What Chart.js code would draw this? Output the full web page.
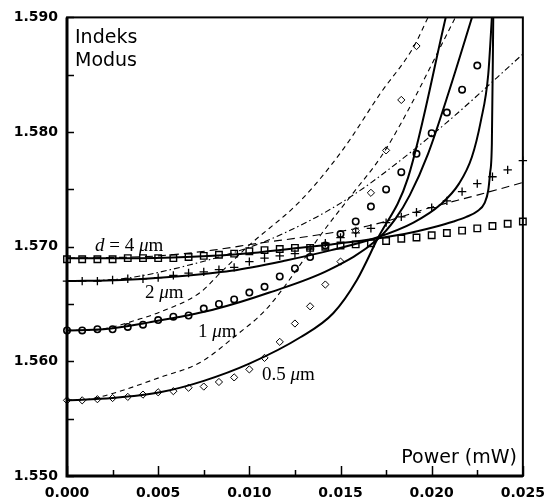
<!DOCTYPE html>
<html>
<head>
<meta charset="utf-8">
<script src="https://cdn.jsdelivr.net/npm/chart.js@4.4.0/dist/chart.umd.min.js"></script>
<style>
html,body{margin:0;padding:0;background:#fff;}
#wrap{width:554px;height:504px;}
</style>
</head>
<body>
<div id="wrap"><canvas id="grafica" width="554" height="504"></canvas></div>
<script>
// ejes
var TICK_X=[0,0.0025,0.005,0.0075,0.010,0.0125,0.015,0.0175,0.020,0.0225,0.025];
var LABEL_X=['0.000','','0.005','','0.010','','0.015','','0.020','','0.025'];
var TICK_Y=[1.550,1.555,1.560,1.565,1.570,1.575,1.580,1.585,1.590];
var LABEL_Y=['1.550','','1.560','','1.570','','1.580','','1.590'];

// puntos medidos (misma potencia para las cuatro series)
var MARK_P=[0,0.000833,0.001667,0.0025,0.003333,0.004167,0.005,0.005833,0.006667,0.0075,0.008333,0.009167,0.01,0.010833,0.011667,0.0125,0.013333,0.014167,0.015,0.015833,0.016667,0.0175,0.018333,0.019167,0.02,0.020833,0.021667,0.0225,0.023333,0.024167,0.025];
var MARK_4=[1.5689,1.5689,1.5689,1.5689,1.5690,1.5690,1.5690,1.5690,1.5691,1.5692,1.5693,1.5694,1.5696,1.5697,1.5698,1.5699,1.5699,1.5700,1.5701,1.5702,1.5703,1.5705,1.5707,1.5708,1.5710,1.5712,1.5714,1.5716,1.5718,1.5720,1.5722];
var MARK_2=[1.5670,1.5670,1.5670,1.5671,1.5672,1.5672,1.5673,1.5675,1.5677,1.5678,1.5680,1.5682,1.5687,1.5690,1.5692,1.5694,1.5698,1.5703,1.5708,1.5712,1.5716,1.5721,1.5726,1.5730,1.5734,1.5740,1.5748,1.5755,1.5761,1.5767,1.5775];
var MARK_1=[1.5627,1.5627,1.5628,1.5628,1.5630,1.5632,1.5636,1.5639,1.5640,1.5646,1.5650,1.5654,1.5660,1.5665,1.5674,1.5681,1.5691,1.5701,1.5711,1.5722,1.5735,1.5750,1.5765,1.5781,1.5799,1.5817,1.5837,1.5858];
var MARK_05=[1.5566,1.5566,1.5567,1.5568,1.5569,1.5571,1.5573,1.5574,1.5577,1.5578,1.5582,1.5586,1.5593,1.5603,1.5617,1.5633,1.5648,1.5667,1.5687,1.5714,1.5747,1.5784,1.5828,1.5875];

// curvas teoricas (solidas)
var S4_P=[0,0.004,0.008,0.0105,0.0128,0.0145,0.0165,0.0185,0.0201,0.0212,0.0219,0.0225,0.0229,0.0231,0.0232,0.0233,0.02338];
var S4_N=[1.5690,1.5690,1.5692,1.5695,1.5699,1.5702,1.5706,1.5711,1.5717,1.5722,1.5726,1.5731,1.5738,1.5749,1.5764,1.5790,1.5905];
var S2_P=[0,0.003,0.006,0.009,0.012,0.0145,0.017,0.019,0.0205,0.0215,0.0222,0.0227,0.0231,0.02332];
var S2_N=[1.5670,1.5671,1.5674,1.5679,1.5688,1.5697,1.5708,1.5721,1.5737,1.5755,1.5778,1.5810,1.5850,1.5905];
var S1_P=[0,0.002,0.0045,0.008,0.0111,0.0144,0.017,0.018,0.0188,0.0198,0.021,0.02225];
var S1_N=[1.5627,1.5628,1.5634,1.5645,1.5660,1.5680,1.5706,1.5724,1.5745,1.5781,1.5838,1.5902];
var S05_P=[0,0.0025,0.0051,0.0075,0.010,0.0128,0.0146,0.0159,0.017,0.0187,0.0208];
var S05_N=[1.5566,1.5568,1.5573,1.5583,1.5598,1.5621,1.5642,1.5671,1.5706,1.5760,1.5902];

// curvas aproximadas (punteadas)
var D4_P=[0,0.005,0.008,0.0105,0.0128,0.0159,0.0177,0.0199,0.0225,0.025];
var D4_N=[1.5690,1.5692,1.5697,1.5703,1.5708,1.5716,1.5723,1.5734,1.5745,1.5756];
var D2_P=[0,0.003,0.0067,0.0106,0.0137,0.0155,0.0172,0.0208,0.025];
var D2_N=[1.5670,1.5672,1.5684,1.5703,1.5726,1.5743,1.5762,1.5808,1.5868];
var D1_P=[0,0.0012,0.0025,0.0038,0.0051,0.0073,0.0084,0.0099,0.0128,0.0151,0.0172,0.019,0.0198];
var D1_N=[1.5627,1.5627,1.5630,1.5636,1.5643,1.5660,1.5677,1.5700,1.5740,1.5784,1.5834,1.5874,1.5900];
var D05_P=[0,0.0012,0.0025,0.0051,0.0073,0.0093,0.0109,0.0126,0.0139,0.0157,0.0172,0.0184,0.0213];
var D05_N=[1.5566,1.5567,1.5572,1.5586,1.5599,1.5623,1.5645,1.5680,1.5710,1.5747,1.5778,1.5810,1.5900];

// etiquetas de curva: texto y punto de anclaje (potencia, indice)
var CURVE_TXT=[[['d',1],[' = 4 ',0],['\u03bc',1],['m',0]],[['2 ',0],['\u03bc',1],['m',0]],[['1 ',0],['\u03bc',1],['m',0]],[['0.5 ',0],['\u03bc',1],['m',0]]];
var CURVE_AT=[[0.00154,1.5701],[0.00428,1.5660],[0.00718,1.56255],[0.01069,1.5588]];

function pares(px,ny){
	var out=new Array();
	for(var i=0;i<ny.length;i++){ out.push({x:px[i],y:ny[i]}); }
	return out;
}

function linea(px,ny,ancho,dash){
	return {data:pares(px,ny),showLine:true,pointRadius:0,borderColor:'#000',borderWidth:ancho,borderDash:dash,cubicInterpolationMode:'monotone',clip:0,order:2};
}

function marcas(ny,estilo,radio,ancho){
	return {data:pares(MARK_P,ny),showLine:false,pointStyle:estilo,pointRadius:radio,borderColor:'#000',backgroundColor:'rgba(255,255,255,0)',pointBorderWidth:ancho,clip:false,order:1};
}

var marco={
	id:'marco',
	afterDatasetsDraw:function(chart){
		var ctx=chart.ctx, a=chart.chartArea, sx=chart.scales.x, sy=chart.scales.y;
		ctx.save();
		ctx.strokeStyle='#000';
		ctx.lineWidth=1.5;
		ctx.beginPath();
		for(var i=0;i<TICK_X.length;i++){
			var px=Math.round(sx.getPixelForValue(TICK_X[i]))+0.5;
			var len=LABEL_X[i]?10:6;
			ctx.moveTo(px,a.bottom); ctx.lineTo(px,a.bottom-len);
		}
		for(var j=0;j<TICK_Y.length;j++){
			var py=Math.round(sy.getPixelForValue(TICK_Y[j]))+0.5;
			ctx.moveTo(a.left,py); ctx.lineTo(a.left+7,py);
		}
		ctx.stroke();
		ctx.lineWidth=2;
		ctx.strokeRect(a.left,a.top,a.right-a.left,a.bottom-a.top);
		ctx.lineWidth=3;
		ctx.beginPath();
		ctx.moveTo(a.left,a.top); ctx.lineTo(a.left,a.bottom); ctx.lineTo(a.right,a.bottom);
		ctx.stroke();

		ctx.fillStyle='#000';
		ctx.font='19px "DejaVu Sans"';
		ctx.textBaseline='middle';
		ctx.textAlign='left';
		ctx.fillText('Indeks',a.left+8,a.top+21);
		ctx.fillText('Modus',a.left+8,a.top+44);
		ctx.textAlign='right';
		ctx.fillText('Power (mW)',a.right-6,a.bottom-18);

		ctx.textAlign='left';
		for(var k=0;k<CURVE_TXT.length;k++){
			var x=sx.getPixelForValue(CURVE_AT[k][0]);
			var y=sy.getPixelForValue(CURVE_AT[k][1]);
			for(var m=0;m<CURVE_TXT[k].length;m++){
				var parte=CURVE_TXT[k][m];
				ctx.font=(parte[1]?'italic ':'')+'19px "Liberation Serif"';
				ctx.fillText(parte[0],x,y);
				x+=ctx.measureText(parte[0]).width;
			}
		}
		ctx.restore();
	}
};

var config={
	type:'scatter',
	data:{
		datasets:[
			linea(S4_P,S4_N,2,[]),
			linea(S2_P,S2_N,2,[]),
			linea(S1_P,S1_N,2,[]),
			linea(S05_P,S05_N,2,[]),
			linea(D4_P,D4_N,1.1,[8,5]),
			linea(D2_P,D2_N,1.1,[6,3,1.5,3]),
			linea(D1_P,D1_N,1.1,[5,4]),
			linea(D05_P,D05_N,1.1,[5,4]),
			marcas(MARK_4,'rect',4.6,1.4),
			marcas(MARK_2,'cross',4.2,1.3),
			marcas(MARK_1,'circle',3.2,1.6),
			marcas(MARK_05,'rectRot',3.6,1)
		]
	},
	options:{
		responsive:false,
		animation:false,
		devicePixelRatio:1,
		layout:{padding:{top:17,right:31,left:0,bottom:0}},
		plugins:{legend:{display:false},tooltip:{enabled:false}},
		scales:{
			x:{
				type:'linear',min:0,max:0.025,
				grid:{display:false,drawTicks:false},
				border:{display:false},
				afterBuildTicks:function(s){ s.ticks=TICK_X.map(function(v){return {value:v};}); },
				afterFit:function(s){ s.height=28; },
				ticks:{autoSkip:false,maxRotation:0,padding:9,color:'#000',font:{family:'DejaVu Sans',size:14,weight:'bold'},
					callback:function(v,i){ return LABEL_X[i]; }}
			},
			y:{
				type:'linear',min:1.550,max:1.590,
				grid:{display:false,drawTicks:false},
				border:{display:false},
				afterBuildTicks:function(s){ s.ticks=TICK_Y.map(function(v){return {value:v};}); },
				afterFit:function(s){ s.width=67; },
				ticks:{autoSkip:false,padding:9,color:'#000',font:{family:'DejaVu Sans',size:14,weight:'bold'},
					callback:function(v,i){ return LABEL_Y[i]; }}
			}
		}
	},
	plugins:[marco]
};

new Chart(document.getElementById('grafica').getContext('2d'),config);
</script>
</body>
</html>
